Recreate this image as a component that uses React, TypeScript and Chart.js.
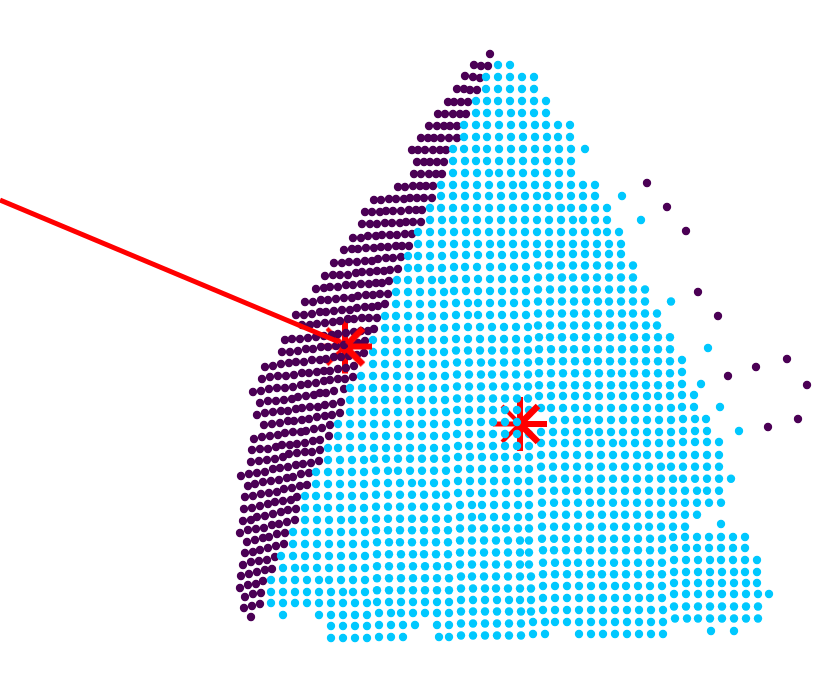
import { useEffect, useRef } from "react";
import { Chart, registerables } from "chart.js";

Chart.register(...registerables);

const PURPLE = "#4B0055";
const CYAN = "#00C8FF";
const RED = "#FF0000";

// Guide line and the two highlighted centres (pixel-like data units)
const lineX = [0, 339];
const lineY = [200, 342];
const centreX = [345, 520];
const centreY = [346.5, 424];

// Purple rows: [xs, ys]
const purpleRows: number[][][] = [
  [[490], [54]],
  [[474, 481, 488], [65, 66, 66]],
  [[465, 473, 480], [76, 77, 78]],
  [[457, 464, 470, 477], [89, 89, 90, 90]],
  [[448, 454, 461, 468], [102, 102, 102, 102]],
  [[438, 445, 453, 460, 466], [114, 114, 114, 114, 114]],
  [[429, 437, 444, 450, 457], [126, 126, 126, 126, 126]],
  [[421, 428, 434, 441, 449, 457], [138, 138, 138, 138, 138, 138]],
  [[412, 418, 425, 433, 440, 446], [150, 150, 150, 150, 150, 150]],
  [[417, 424, 430, 437, 444], [162, 162, 162, 162, 162]],
  [[414, 421, 429, 436, 442], [174, 174, 174, 174, 174]],
  [[398, 405, 413, 420, 426, 433], [187, 187, 186, 186, 186, 186]],
  [[374, 381, 389, 396, 404, 410, 417, 424, 432], [200, 200, 199, 199, 199, 198, 198, 198, 198]],
  [[365, 372, 380, 386, 393, 401, 409, 416, 422], [212, 212, 212, 211, 211, 211, 210, 210, 210]],
  [[362, 370, 377, 385, 392, 400, 406, 413, 421], [224, 224, 224, 223, 223, 223, 222, 222, 222]],
  [[353, 361, 368, 376, 382, 390, 397, 405, 412], [238, 238, 236, 236, 235, 235, 235, 234, 234]],
  [[344, 352, 358, 366, 374, 381, 388, 396, 402, 409], [250, 249, 249, 248, 248, 247, 247, 246, 246, 246]],
  [[334, 342, 349, 357, 365, 372, 378, 386, 393, 401], [263, 263, 262, 262, 261, 261, 259, 258, 258, 257]],
  [[325, 333, 340, 348, 356, 362, 370, 377, 384, 390, 398], [276, 275, 275, 275, 273, 272, 272, 271, 271, 270, 269]],
  [[316, 324, 330, 338, 346, 353, 361, 369, 376, 382, 389], [289, 288, 287, 287, 285, 285, 284, 284, 283, 283, 281]],
  [[305, 313, 321, 328, 336, 344, 352, 358, 366, 373, 380, 388], [302, 302, 300, 300, 299, 298, 298, 296, 295, 295, 294, 294]],
  [[296, 304, 312, 320, 326, 334, 342, 350, 357, 365, 372, 378, 385], [315, 315, 314, 312, 312, 311, 310, 310, 308, 307, 307, 306, 304]],
  [[302, 310, 317, 325, 333, 340, 348, 354, 362, 369, 377], [325, 325, 324, 323, 322, 321, 319, 319, 318, 318, 318]],
  [[285, 292, 300, 308, 316, 324, 332, 338, 346, 354, 361, 368, 374], [340, 339, 339, 338, 337, 336, 335, 334, 333, 332, 331, 331, 329]],
  [[282, 290, 298, 306, 313, 321, 328, 336, 344, 350, 358, 365], [352, 352, 351, 349, 349, 347, 347, 346, 345, 344, 343, 341]],
  [[265, 273, 281, 289, 296, 304, 312, 320, 326, 334, 341, 349, 357, 364], [367, 366, 364, 363, 362, 362, 360, 360, 359, 357, 357, 356, 355, 353]],
  [[262, 270, 278, 286, 294, 302, 309, 317, 324, 330, 338, 346, 354], [379, 377, 376, 376, 375, 373, 373, 372, 371, 371, 369, 368, 366]],
  [[253, 261, 269, 277, 285, 293, 301, 308, 316, 324, 330, 338, 345, 353], [392, 391, 389, 388, 388, 387, 385, 384, 383, 381, 380, 379, 379, 377]],
  [[260, 268, 276, 284, 292, 298, 306, 314, 320, 326, 334, 344], [403, 401, 401, 400, 399, 397, 396, 395, 393, 393, 391, 389]],
  [[257, 265, 273, 281, 288, 296, 302, 310, 318, 325, 333, 341], [415, 413, 412, 411, 411, 409, 408, 407, 407, 405, 404, 402]],
  [[264, 272, 280, 288, 294, 302, 309, 317, 325, 332, 340], [425, 424, 423, 421, 421, 420, 419, 417, 416, 415, 413]],
  [[254, 262, 270, 278, 285, 293, 301, 306, 314, 322, 330], [439, 437, 436, 435, 433, 432, 432, 431, 429, 428, 425]],
  [[252, 260, 268, 276, 282, 290, 297, 305, 313, 320, 329], [450, 449, 449, 447, 445, 445, 444, 443, 441, 440, 436]],
  [[251, 259, 267, 275, 283, 289, 297, 305, 312, 320], [462, 461, 460, 459, 457, 454, 453, 452, 452, 450]],
  [[241, 249, 257, 265, 273, 280, 288, 296, 303, 311, 319], [476, 474, 473, 472, 469, 468, 467, 465, 464, 463, 461]],
  [[248, 255, 263, 271, 279, 287, 293, 301, 309], [486, 484, 482, 481, 480, 478, 477, 474, 473]],
  [[245, 253, 261, 269, 277, 284, 292, 300, 307], [497, 496, 494, 493, 492, 489, 488, 486, 485]],
  [[244, 252, 260, 268, 275, 283, 291, 297], [509, 508, 506, 504, 502, 501, 500, 497]],
  [[243, 251, 257, 265, 273, 281, 288, 296], [521, 520, 517, 516, 514, 512, 510, 509]],
  [[240, 248, 256, 264, 272, 279, 287, 295], [533, 530, 529, 528, 525, 524, 522, 520]],
  [[247, 255, 263, 269, 277, 285], [542, 540, 538, 537, 534, 533]],
  [[245, 253, 260, 268, 276, 284], [553, 552, 550, 548, 546, 544]],
  [[243, 251, 259, 267, 275], [565, 562, 561, 560, 557]],
  [[241, 249, 257, 265, 272], [576, 574, 572, 570, 569]],
  [[240, 248, 256, 263], [588, 585, 584, 581]],
  [[245, 253, 261], [597, 594, 593]],
  [[244, 252, 260], [608, 606, 604]],
  [[251], [617]],
  [[647, 667, 686, 698, 718, 728, 756, 787, 807, 768, 798], [183, 207, 231, 292, 316, 376, 367, 359, 385, 427, 419]],
];

// Cyan dots whose rows are level: [y, xs]
const cyanLevelRows: [number, number[]][] = [
  [65, [498, 510]],
  [77, [486, 498, 510, 522, 534]],
  [89, [486, 498, 510, 522, 534]],
  [101, [476, 487, 498, 510, 522, 534, 546]],
  [113, [476, 487, 499, 511, 522, 534, 546]],
  [125, [464, 476, 487, 499, 511, 523, 535, 546, 558, 570]],
  [137, [464, 476, 487, 499, 511, 523, 535, 547, 558, 570]],
  [149, [453, 464, 476, 487, 499, 511, 523, 535, 547, 559, 571, 585]],
  [161, [453, 465, 476, 487, 499, 511, 523, 535, 547, 559, 571]],
  [173, [453, 465, 477, 489, 499, 511, 523, 535, 547, 559, 571]],
  [185, [441, 453, 465, 477, 489, 501, 513, 523, 535, 547, 559, 571, 583, 595]],
  [196, [441, 453, 465, 477, 489, 501, 513, 525, 537, 547, 559, 571, 583, 595, 622]],
  [208, [430, 441, 453, 465, 477, 489, 501, 513, 525, 537, 549, 561, 571, 583, 595, 607]],
  [220, [430, 442, 453, 465, 477, 489, 501, 513, 525, 537, 549, 561, 573, 583, 595, 607, 641]],
  [232, [418, 430, 442, 454, 466, 477, 489, 501, 513, 525, 537, 549, 561, 573, 585, 597, 607, 619]],
  [244, [418, 430, 442, 454, 466, 478, 490, 501, 513, 525, 537, 549, 561, 573, 585, 597, 609, 621]],
  [524, [721]],
  [631, [711, 734]],
];

// Lower rows drift upward to the right: one y for each x band
const cyanBandLimits = [370, 450, 532, 673];
const cyanTiltedRows: [number[], number[]][] = [
  [[256, 256, 255, 254, 254], [408, 418, 430, 442, 454, 466, 478, 490, 502, 514, 525, 537, 549, 561, 573, 585, 597, 609, 621]],
  [[268, 268, 267, 265.5, 265], [408, 418, 430, 442, 454, 465, 477, 490, 502, 514, 526, 538, 549, 561, 573, 585, 597, 609, 621, 633]],
  [[280, 280, 279, 277.5, 277], [397, 408, 420, 432, 442, 454, 466, 478, 490, 502, 514, 526, 538, 550, 562, 573, 585, 597, 609, 621, 633]],
  [[292, 292, 291, 289.5, 288.5], [396, 408, 420, 432, 444, 454, 466, 478, 490, 502, 514, 526, 538, 550, 562, 574, 586, 597, 609, 621, 633, 645]],
  [[304, 304, 303, 301.5, 300.5], [396, 408, 420, 432, 444, 456, 468, 478, 490, 502, 514, 526, 538, 550, 562, 574, 586, 598, 609, 621, 633, 645, 671]],
  [[316, 316, 315, 313.5, 312.5], [385, 396, 408, 420, 432, 444, 456, 468, 478, 490, 502, 514, 526, 538, 550, 562, 574, 586, 598, 610, 622, 633, 645, 657]],
  [[328, 328, 327, 325.5, 324], [385, 396, 408, 420, 432, 444, 456, 468, 480, 492, 504, 516, 528, 538, 550, 562, 574, 586, 598, 610, 622, 634, 646, 657]],
  [[340, 340, 339, 337.3, 336], [373, 385, 397, 409, 420, 432, 444, 456, 468, 480, 492, 504, 516, 528, 539, 550, 562, 574, 586, 598, 610, 622, 634, 646, 658, 670]],
  [[352, 352, 350.5, 349.3, 348], [373, 385, 397, 409, 421, 433, 444, 456, 468, 480, 492, 504, 516, 528, 539, 551, 563, 574, 586, 598, 610, 622, 634, 646, 658, 670, 708]],
  [[364, 364, 362.5, 361.3, 360], [373, 385, 397, 409, 421, 433, 445, 457, 469, 481, 492, 504, 516, 528, 539, 551, 563, 575, 587, 598, 610, 622, 634, 646, 658, 670, 682]],
  [[376, 376, 374.5, 373.3, 372], [361, 373, 385, 397, 409, 421, 433, 445, 457, 469, 481, 492, 504, 516, 528, 539, 551, 563, 575, 587, 599, 611, 622, 634, 646, 658, 670, 682]],
  [[388, 388, 386.5, 385.3, 384], [350, 362, 373, 385, 397, 409, 421, 433, 445, 457, 469, 481, 493, 505, 517, 528, 539, 551, 563, 575, 587, 599, 611, 623, 634, 646, 658, 670, 682, 701]],
  [[400, 400, 398.5, 396, 395], [350, 362, 374, 385, 397, 409, 421, 433, 445, 457, 469, 481, 493, 505, 517, 528, 539, 551, 563, 575, 587, 599, 611, 623, 635, 647, 658, 670, 682, 694]],
  [[412, 412, 410, 408, 407], [350, 362, 374, 386, 398, 410, 422, 434, 446, 457, 469, 481, 493, 505, 517, 529, 541, 551, 563, 575, 587, 599, 611, 623, 635, 647, 659, 671, 682, 694, 720]],
  [[424, 424, 422, 420, 419], [338, 350, 362, 374, 386, 398, 410, 422, 434, 446, 458, 469, 481, 493, 505, 517, 553, 565, 577, 587, 599, 611, 623, 635, 647, 659, 671, 683, 695, 706]],
  [[436, 436, 434, 432, 431], [338, 350, 362, 374, 386, 398, 410, 422, 434, 446, 457, 469, 481, 493, 505, 517, 529, 541, 553, 565, 577, 589, 599, 611, 623, 635, 647, 659, 671, 683, 695, 707, 739]],
  [[448, 448, 446, 443, 442], [328, 338, 350, 362, 374, 386, 398, 410, 422, 434, 446, 458, 469, 481, 493, 505, 517, 529, 541, 553, 565, 577, 589, 601, 613, 623, 635, 647, 659, 671, 683, 695, 707, 719]],
  [[460, 458.7, 457, 455, 455], [328, 340, 352, 364, 374, 386, 398, 410, 422, 434, 446, 458, 470, 482, 494, 505, 517, 529, 541, 553, 565, 577, 589, 601, 613, 625, 637, 647, 659, 671, 683, 695, 707, 719]],
  [[472, 470.7, 469, 466.7, 466.7], [316, 328, 340, 352, 364, 376, 388, 398, 410, 422, 434, 446, 458, 470, 482, 494, 506, 518, 529, 541, 553, 565, 577, 589, 601, 613, 625, 637, 649, 661, 671, 683, 695, 707, 719]],
  [[484, 483, 481, 478.7, 478.7], [316, 328, 340, 352, 364, 376, 388, 400, 412, 422, 434, 446, 458, 470, 482, 494, 506, 518, 529, 542, 553, 565, 577, 589, 601, 613, 625, 637, 649, 661, 673, 683, 695, 707, 719, 731]],
  [[496, 494.7, 493, 490.7, 490.7], [305, 316, 328, 340, 352, 364, 376, 388, 400, 412, 424, 436, 446, 458, 470, 482, 494, 506, 518, 529, 542, 554, 566, 577, 589, 601, 613, 625, 637, 649, 661, 673, 685, 697, 707, 719]],
  [[508, 506.7, 505, 502.7, 502.7], [305, 317, 328, 340, 352, 364, 376, 388, 400, 412, 424, 436, 448, 460, 472, 482, 494, 506, 518, 529, 542, 554, 566, 578, 590, 601, 613, 625, 637, 649, 661, 673, 685, 697, 709, 721]],
  [[520, 518.7, 517, 514.7, 514.7], [305, 317, 329, 341, 352, 364, 376, 388, 400, 412, 424, 436, 448, 460, 472, 482, 494, 506, 518, 529, 542, 554, 566, 578, 590, 602, 614, 625, 637, 649, 661, 673, 685, 697]],
  [[532, 530.3, 528.5, 526.7, 526.7], [293, 305, 317, 329, 341, 353, 365, 376, 388, 400, 412, 424, 436, 448, 460, 472, 484, 496, 506, 518, 529, 542, 554, 566, 578, 590, 602, 614, 626, 638, 649, 661, 673, 685]],
  [[544, 542.3, 540.5, 538.7, 537], [293, 305, 317, 329, 341, 353, 365, 377, 389, 400, 412, 424, 436, 448, 460, 472, 484, 496, 508, 520, 529, 542, 554, 566, 578, 590, 602, 614, 626, 638, 650, 662, 673, 685, 697, 709, 721, 733, 745]],
  [[556, 554.3, 552.5, 550.3, 548], [281, 293, 305, 317, 329, 341, 353, 365, 377, 389, 401, 413, 424, 436, 448, 460, 472, 484, 496, 508, 520, 529, 543, 554, 566, 578, 590, 602, 614, 626, 638, 650, 662, 674, 686, 697, 709, 721, 733, 745]],
  [[568, 566.3, 564.5, 562.7, 560], [283, 295, 305, 317, 329, 341, 353, 365, 377, 389, 401, 413, 425, 437, 448, 460, 472, 484, 496, 508, 520, 529, 543, 555, 567, 578, 590, 602, 614, 626, 638, 650, 662, 674, 686, 698, 710, 721, 733, 745, 757]],
  [[580, 578.3, 576.5, 574.3, 572], [271, 283, 295, 307, 319, 329, 341, 353, 365, 377, 389, 401, 413, 425, 437, 449, 461, 472, 484, 496, 508, 520, 531, 543, 555, 567, 579, 591, 602, 614, 626, 638, 650, 662, 674, 686, 698, 710, 722, 734, 745, 757]],
  [[592, 590.3, 588.5, 586, 583], [271, 283, 295, 307, 319, 331, 343, 353, 365, 377, 389, 401, 413, 425, 437, 449, 461, 473, 485, 496, 508, 520, 531, 543, 555, 567, 579, 591, 603, 615, 626, 638, 650, 662, 674, 686, 698, 710, 722, 734, 746, 757]],
  [[603, 602, 600, 598, 594], [271, 283, 295, 307, 319, 331, 343, 355, 367, 377, 389, 401, 413, 425, 437, 449, 461, 473, 485, 497, 509, 520, 531, 543, 555, 567, 579, 591, 603, 615, 627, 639, 650, 662, 674, 686, 698, 710, 722, 734, 746, 758, 769]],
  [[615, 613, 611.5, 610, 606.5], [283, 319, 331, 343, 355, 367, 379, 391, 401, 413, 425, 437, 449, 461, 473, 485, 497, 509, 521, 531, 543, 555, 567, 579, 591, 603, 615, 627, 639, 651, 663, 674, 686, 698, 710, 722, 734, 746, 758]],
  [[626, 625, 623.5, 622, 618.5], [331, 343, 355, 367, 379, 391, 403, 415, 437, 449, 461, 473, 485, 497, 509, 521, 533, 545, 555, 567, 579, 591, 603, 615, 627, 639, 651, 663, 675, 687, 698, 710, 722, 734, 746, 758]],
  [[638, 637, 635.5, 634, 634], [331, 343, 355, 367, 379, 391, 403, 439, 449, 461, 473, 485, 497, 509, 521, 533, 545, 579, 591, 603, 615, 627, 639, 651, 663]],
];

function starCanvas(arms: [number, number, number][], start: number): HTMLCanvasElement {
  const c = document.createElement("canvas");
  c.width = 64;
  c.height = 64;
  const g = c.getContext("2d")!;
  g.strokeStyle = RED;
  for (const [dx, dy, w] of arms) {
    const len = Math.hypot(dx, dy);
    g.lineWidth = w;
    g.beginPath();
    g.moveTo(32 + (dx / len) * start, 32 + (dy / len) * start);
    g.lineTo(32 + dx, 32 + dy);
    g.stroke();
  }
  return c;
}

function bandY(ys: number[], x: number): number {
  const i = cyanBandLimits.findIndex((limit) => x < limit);
  return ys[i === -1 ? ys.length - 1 : i];
}

export default function App() {
  const ref = useRef<HTMLCanvasElement>(null);
  useEffect(() => {
    if (!ref.current) return;
    const purple = purpleRows.flatMap(([xs, ys]) => xs.map((x, i) => ({ x, y: ys[i] })));
    const cyan = [
      ...cyanLevelRows.flatMap(([y, xs]) => xs.map((x) => ({ x, y }))),
      ...cyanTiltedRows.flatMap(([ys, xs]) => xs.map((x) => ({ x, y: bandY(ys, x) }))),
    ];
    const centres = centreX.map((x, i) => ({ x, y: centreY[i] }));
    const under = starCanvas(
      [
        [-27, 0, 5],
        [-18, -18, 4],
        [-18, 18, 4],
        [0, -27, 6],
        [0, 27, 6],
      ],
      0,
    );
    const over = starCanvas(
      [
        [27, 0, 6],
        [18, -18, 6.5],
        [18, 18, 6.5],
      ],
      3,
    );
    const chart = new Chart(ref.current, {
      type: "scatter",
      data: {
        datasets: [
          { label: "centres over", data: centres, pointStyle: over as any, order: 0 },
          {
            label: "guide",
            data: lineX.map((x, i) => ({ x, y: lineY[i] })),
            showLine: true,
            borderColor: RED,
            borderWidth: 5,
            pointRadius: 0,
            order: 1,
          },
          {
            label: "cyan",
            data: cyan,
            backgroundColor: CYAN,
            borderWidth: 0,
            pointRadius: 4.2,
            order: 2,
          },
          {
            label: "purple",
            data: purple,
            backgroundColor: PURPLE,
            borderWidth: 0,
            pointRadius: 4.2,
            order: 3,
          },
          { label: "centres under", data: centres, pointStyle: under as any, order: 4 },
        ],
      },
      options: {
        responsive: false,
        animation: false,
        layout: { padding: 0, autoPadding: false },
        plugins: { legend: { display: false }, tooltip: { enabled: false } },
        scales: {
          x: { type: "linear", min: 0, max: 830, display: false },
          y: { type: "linear", min: 0, max: 688, reverse: true, display: false },
        },
      },
    });
    return () => chart.destroy();
  }, []);
  return (
    <canvas
      ref={ref}
      width={830}
      height={688}
      style={{ position: "absolute", left: 0, top: 0, display: "block", width: 830, height: 688 }}
    />
  );
}
